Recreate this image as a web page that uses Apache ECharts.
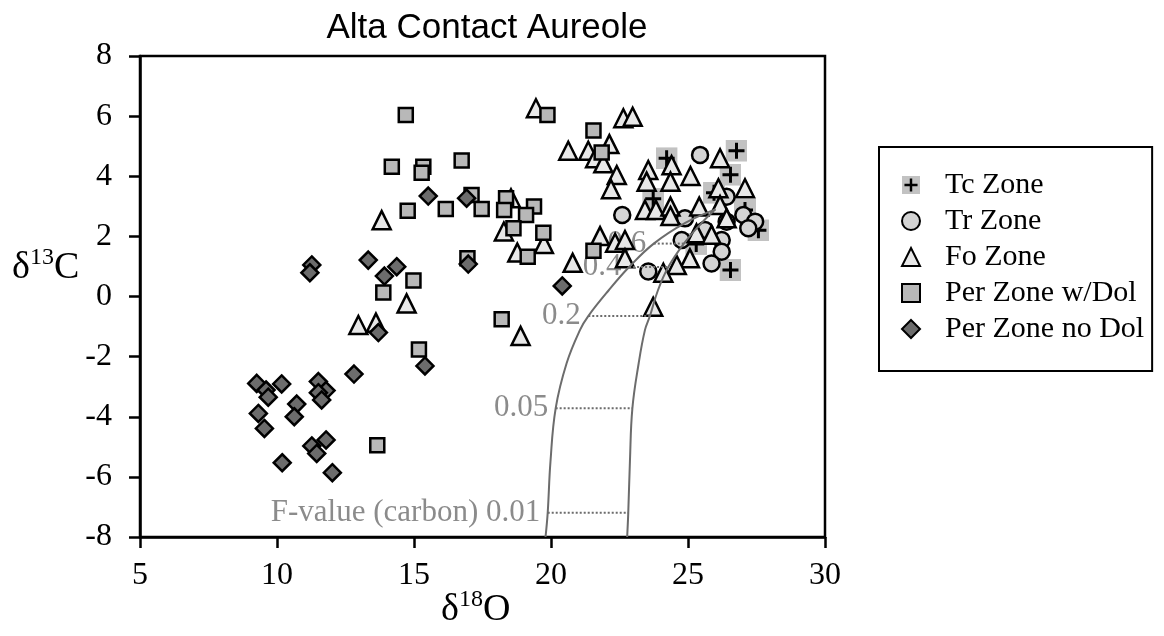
<!DOCTYPE html>
<html><head><meta charset="utf-8">
<script src="https://cdn.jsdelivr.net/npm/echarts@6/dist/echarts.min.js"></script>
<style>html,body{margin:0;padding:0;background:#fff}#c{width:1164px;height:636px}</style>
</head><body><div id="c"></div>
<script>
// ---------- data ----------
var seriesNames = ['Tc Zone', 'Tr Zone', 'Fo Zone', 'Per Zone w/Dol', 'Per Zone no Dol'];

var tcZone = [[24.22,4.6],[26.77,4.85],[26.55,4.05],[23.73,3.25],[25.95,3.45],[27.08,2.88],[27.57,2.2],[26.55,0.88],[25.3,1.75]];

var trZone = [[25.44,4.71],[22.6,2.71],[23.55,0.83],[26.41,3.32],[24.89,2.6],[27.02,2.71],[27.45,2.49],[27.2,2.27],[24.77,1.88],[26.23,1.88],[26.23,1.49],[25.86,1.1],[26.41,2.49],[25.62,2.21]];

var foZone = [[19.45,6.26],[22.64,5.93],[22.98,5.98],[20.63,4.85],[21.36,4.85],[22.13,5.07],[21.61,4.6],[21.91,4.43],[22.4,4.04],[22.19,3.57],[13.82,2.54],[18.54,3.27],[18.28,2.16],[18.77,1.46],[19.74,1.75],[20.79,1.12],[21.79,2.01],[22.34,1.79],[22.7,1.88],[22.7,1.27],[14.73,-0.23],[18.89,-1.31],[12.97,-0.95],[13.61,-0.87],[23.73,-0.34],[23.55,4.21],[23.49,3.82],[24.4,4.37],[24.36,3.82],[25.09,4.01],[23.43,2.88],[23.83,2.88],[24.36,2.99],[24.36,2.68],[25.41,2.99],[26.17,4.6],[26.11,3.6],[27.08,3.6],[26.17,3.04],[26.41,2.6],[25.31,2.1],[25.86,2.05],[25.07,1.27],[24.59,1.05],[24.1,0.79]];

var perWDol = [[14.7,6.04],[14.19,4.32],[15.34,4.32],[15.28,4.12],[16.74,4.52],[14.77,2.85],[16.16,2.91],[17.1,3.38],[17.47,2.91],[16.95,1.27],[14.98,0.53],[13.88,0.13],[15.18,-1.76],[13.66,-4.95],[19.87,6.04],[21.55,5.52],[21.85,4.79],[18.36,3.27],[18.29,2.88],[19.38,2.99],[19.09,2.71],[18.63,2.27],[19.72,2.12],[19.15,1.32],[21.55,1.52],[18.2,-0.76]];

var perNoDol = [[11.27,1.05],[11.2,0.79],[13.33,1.21],[14.37,0.99],[13.92,0.68],[13.7,-1.2],[12.81,-2.58],[9.26,-2.89],[9.6,-3.11],[9.68,-3.35],[10.17,-2.91],[10.72,-3.58],[10.63,-4.0],[9.32,-3.89],[9.54,-4.39],[11.51,-2.83],[11.79,-3.13],[11.51,-3.2],[11.63,-3.44],[11.27,-4.97],[11.79,-4.77],[11.45,-5.22],[10.19,-5.53],[12.02,-5.86],[15.52,3.34],[16.92,3.27],[16.98,1.08],[15.4,-2.31],[20.41,0.35]];

// F-value (carbon) model curves
var fCurveLeft = [[19.8,-8],[19.88,-7.19],[19.98,-5.5],[20.17,-3.72],[20.57,-2.22],[21.06,-1.11],[21.36,-0.65],[22.1,0.2],[22.85,0.98],[23.75,1.76],[24.9,2.45],[26.0,2.9]];
var fCurveRight = [[22.78,-8],[22.82,-7.19],[22.88,-5.5],[22.97,-3.72],[23.2,-2.22],[23.43,-1.11],[23.61,-0.65],[23.9,0.2],[24.28,0.98],[24.85,1.76],[25.45,2.4],[26.0,2.9]];
var fLabels = ['F-value (carbon) 0.01', '0.05', '0.2', '0.4', '0.6'];
var fY = [-7.19, -3.72, -0.65, 0.98, 1.76];
var fXLeft = [19.88, 20.17, 21.36, 22.85, 23.75];
var fXRight = [22.82, 22.97, 23.61, 24.28, 24.85];

var xTicks = {min: 5, max: 30, interval: 5};
var yTicks = {min: -8, max: 8, interval: 2};

// ---------- chart ----------
var SERIF = "'Liberation Serif','Times New Roman',serif";
var SANS = "'Liberation Sans',Arial,sans-serif";
var tcSvg = "<svg xmlns='http://www.w3.org/2000/svg' width='22' height='22'><rect width='22' height='22' fill='#c2c2c2'/><path d='M11 3V19M3 11H19' stroke='#000' stroke-width='3'/></svg>";
var tcSymbol = 'image://data:image/svg+xml;charset=utf-8,' + encodeURIComponent(tcSvg);

var chart = echarts.init(document.getElementById('c'), null, {renderer: 'canvas'});

function scatter(name, data, symbol, size, fill) {
  return {
    name: name, type: 'scatter', data: data, symbol: symbol, symbolSize: size,
    itemStyle: {color: fill, borderColor: '#000', borderWidth: symbol.indexOf('image') === 0 ? 0 : 2.5, opacity: 1},
    emphasis: {disabled: true}, z: 2
  };
}

var series = [
  scatter(seriesNames[0], tcZone, tcSymbol, 22, '#c2c2c2'),
  scatter(seriesNames[1], trZone, 'circle', 16, '#d4d4d4'),
  scatter(seriesNames[2], foZone, 'triangle', 18, '#e8e8e8'),
  scatter(seriesNames[3], perWDol, 'rect', 14, '#b8b8b8'),
  scatter(seriesNames[4], perNoDol, 'diamond', 17, '#6c6c6c')
];

var curveStyle = {color: '#6c6c6c', width: 2};
series.push({type: 'line', data: fCurveLeft, smooth: 0.4, symbol: 'none', lineStyle: curveStyle, z: 5, silent: true});
series.push({type: 'line', data: fCurveRight, smooth: 0.4, symbol: 'none', lineStyle: curveStyle, z: 5, silent: true});
for (var i = 0; i < fY.length; i++) {
  series.push({type: 'line', data: [[fXLeft[i], fY[i]], [fXRight[i], fY[i]]], symbol: 'none',
    lineStyle: {color: '#6c6c6c', width: 2, type: 'dotted'}, z: 5, silent: true});
}
series.push({
  type: 'scatter', symbol: 'circle', symbolSize: 1, silent: true, z: 1,
  itemStyle: {color: 'rgba(0,0,0,0)'},
  data: fY.map(function (y, i) { return {value: [fXLeft[i], y], name: fLabels[i]}; }),
  label: {show: true, position: 'left', distance: 7, formatter: '{b}', color: '#6e6e6e', fontFamily: SERIF, fontSize: 31}
});

var axisCommon = {
  axisLine: {show: true, onZero: false, lineStyle: {color: '#000', width: 2.5}},
  axisTick: {show: true, inside: false, length: 11, lineStyle: {color: '#000', width: 2.5}},
  splitLine: {show: false}
};

chart.setOption({
  animation: false,
  backgroundColor: '#fff',
  title: {text: 'Alta Contact Aureole', left: 482, top: 6, textAlign: 'center',
    textStyle: {fontFamily: SANS, fontSize: 35, fontWeight: 'normal', color: '#000'}},
  grid: {left: 140, right: 339, top: 56, bottom: 99, show: true, borderColor: '#000', borderWidth: 2.5, backgroundColor: 'transparent'},
  xAxis: Object.assign({type: 'value', min: xTicks.min, max: xTicks.max, interval: xTicks.interval,
    axisLabel: {margin: 23, color: '#000', fontFamily: SERIF, fontSize: 32}}, axisCommon),
  yAxis: Object.assign({type: 'value', min: yTicks.min, max: yTicks.max, interval: yTicks.interval,
    axisLabel: {margin: 28, color: '#000', fontFamily: SERIF, fontSize: 32}}, axisCommon),
  legend: {
    data: seriesNames, orient: 'vertical', left: 879, top: 147,
    padding: [23, 8, 27, 22], itemGap: 6, itemWidth: 18, itemHeight: 18,
    borderColor: '#000', borderWidth: 2, backgroundColor: '#fff',
    textStyle: {fontFamily: SERIF, fontSize: 30, color: '#000', padding: [0, 0, 0, 20]},
    selectedMode: false
  },
  graphic: [
    {type: 'text', left: 12, top: 246, silent: true,
      style: {text: '{a|δ}{b|13}{a|C}', rich: {
        a: {fontFamily: SERIF, fontSize: 38, fill: '#000', lineHeight: 44},
        b: {fontFamily: SERIF, fontSize: 24, fill: '#000', verticalAlign: 'top', lineHeight: 24}}}},
    {type: 'text', left: 441, top: 588, silent: true,
      style: {text: '{a|δ}{b|18}{a|O}', rich: {
        a: {fontFamily: SERIF, fontSize: 38, fill: '#000', lineHeight: 44},
        b: {fontFamily: SERIF, fontSize: 24, fill: '#000', verticalAlign: 'top', lineHeight: 24}}}}
  ],
  series: series
});
</script></body></html>
